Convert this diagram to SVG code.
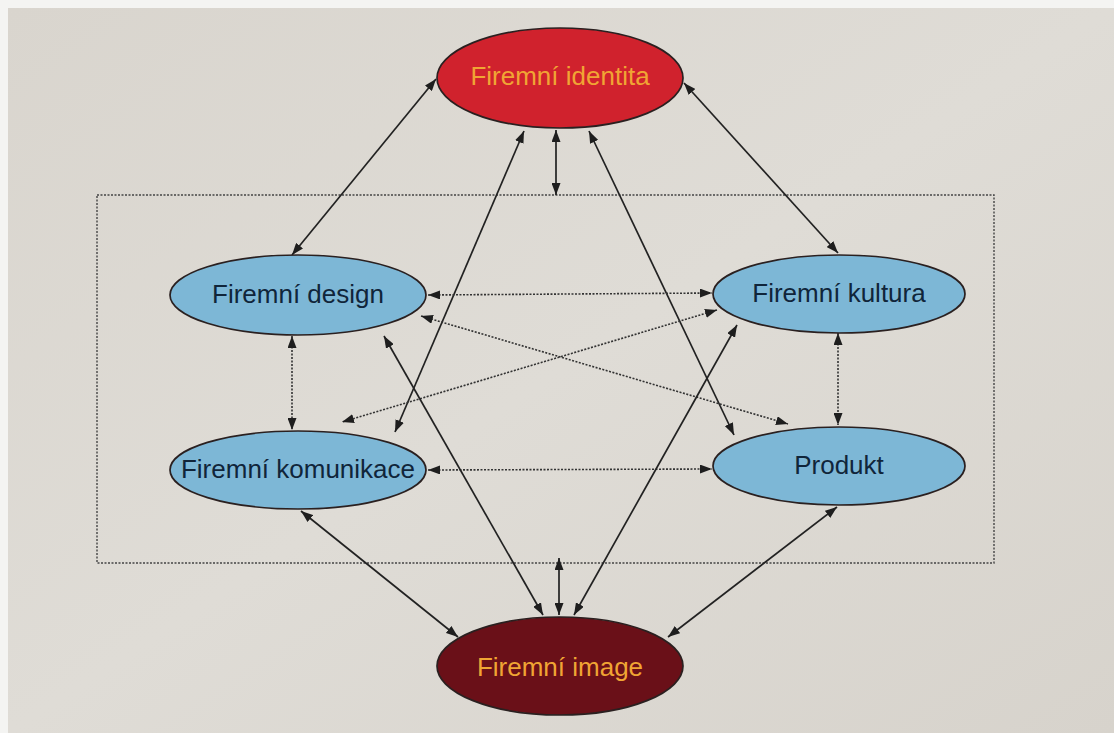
<svg xmlns="http://www.w3.org/2000/svg" width="1114" height="733" viewBox="0 0 1114 733">
  <defs>
    <marker id="arr" viewBox="0 0 12 9" refX="12" refY="4.5" markerWidth="12" markerHeight="9" markerUnits="userSpaceOnUse" orient="auto-start-reverse">
      <path d="M0,0 L12,4.5 L0,9 Z" fill="#1e1e1e"/>
    </marker>
    <linearGradient id="paper" x1="0" y1="0" x2="1" y2="1">
      <stop offset="0" stop-color="#d9d5ce"/>
      <stop offset="0.5" stop-color="#dfdcd6"/>
      <stop offset="1" stop-color="#d7d3cc"/>
    </linearGradient>
  </defs>
  <style>
    .solid { stroke: #222; stroke-width: 1.7; fill: none; marker-start: url(#arr); marker-end: url(#arr); }
    .dot { stroke: #333; stroke-width: 1.6; fill: none; stroke-dasharray: 2 1.5; marker-start: url(#arr); marker-end: url(#arr); }
    .frame { stroke: #444; stroke-width: 1.4; fill: none; stroke-dasharray: 2 1.5; }
    .node { stroke: #2a2020; stroke-width: 1.7; }
    .blue { fill: #7db7d6; }
    .lbl { font-family: "Liberation Sans", Arial, sans-serif; font-size: 26px; text-anchor: middle; }
    .dark { fill: #10253a; }
    .gold { fill: #f0a534; }
  </style>

  <!-- paper background with light border at top and left -->
  <rect x="0" y="0" width="1114" height="733" fill="#f4f4f2"/>
  <rect x="8" y="8" width="1106" height="725" fill="url(#paper)"/>

  <!-- dotted frame around the four inner elements -->
  <rect class="frame" x="97" y="195" width="897" height="368"/>

  <!-- connectors -->
  <g id="connectors">
    <line class="solid" x1="436" y1="79" x2="292" y2="255"/>
    <line class="solid" x1="684" y1="83" x2="838" y2="253"/>
    <line class="solid" x1="556" y1="130" x2="556" y2="195"/>
    <line class="solid" x1="524" y1="131" x2="395" y2="432"/>
    <line class="solid" x1="589" y1="131" x2="734" y2="435"/>
    <line class="dot" x1="428" y1="295" x2="712" y2="293"/>
    <line class="dot" x1="421" y1="316" x2="788" y2="424"/>
    <line class="dot" x1="717" y1="310" x2="342" y2="422"/>
    <line class="dot" x1="292" y1="336" x2="292" y2="430"/>
    <line class="dot" x1="838" y1="333" x2="838" y2="425"/>
    <line class="dot" x1="428" y1="470" x2="712" y2="469"/>
    <line class="solid" x1="384" y1="336" x2="543" y2="615"/>
    <line class="solid" x1="737" y1="325" x2="574" y2="615"/>
    <line class="solid" x1="559" y1="558" x2="559" y2="615"/>
    <line class="solid" x1="301" y1="511" x2="458" y2="637"/>
    <line class="solid" x1="837" y1="507" x2="668" y2="637"/>
  </g>

  <g id="firemni-identita">
    <ellipse class="node" cx="560" cy="78" rx="123" ry="50" fill="#d0222d"/>
    <text class="lbl gold" x="560" y="85">Firemní identita</text>
  </g>

  <g id="firemni-design">
    <ellipse class="node blue" cx="298" cy="295" rx="128" ry="40"/>
    <text class="lbl dark" x="298" y="303">Firemní design</text>
  </g>

  <g id="firemni-kultura">
    <ellipse class="node blue" cx="839" cy="294" rx="126" ry="39"/>
    <text class="lbl dark" x="839" y="302">Firemní kultura</text>
  </g>

  <g id="firemni-komunikace">
    <ellipse class="node blue" cx="298" cy="470" rx="128" ry="39"/>
    <text class="lbl dark" x="298" y="478">Firemní komunikace</text>
  </g>

  <g id="produkt">
    <ellipse class="node blue" cx="839" cy="466" rx="126" ry="39"/>
    <text class="lbl dark" x="839" y="474">Produkt</text>
  </g>

  <g id="firemni-image">
    <ellipse class="node" cx="560" cy="666" rx="123" ry="49" fill="#6a1018"/>
    <text class="lbl gold" x="560" y="676">Firemní image</text>
  </g>
</svg>
